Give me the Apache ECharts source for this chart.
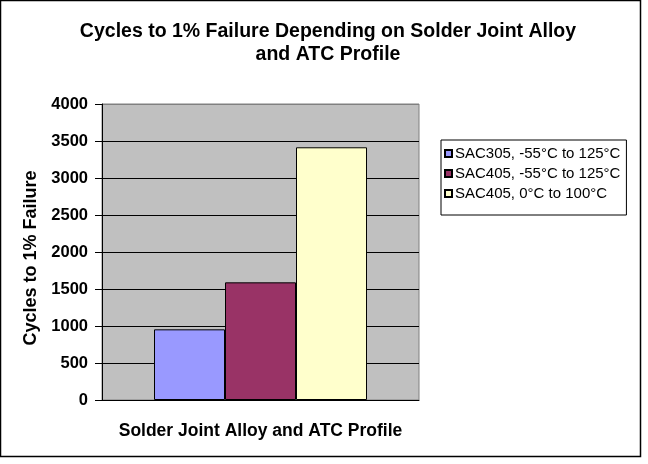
<!DOCTYPE html>
<html>
<head>
<meta charset="utf-8">
<script src="https://cdn.jsdelivr.net/npm/echarts@6/dist/echarts.min.js"></script>
<style>
html,body{margin:0;padding:0;background:#fff;}
#chart{width:648px;height:464px;}
</style>
</head>
<body>
<div id="chart"></div>
<script>
var categories = ['Solder Joint Alloy and ATC Profile'];
var seriesNames = ['SAC305, -55°C to 125°C', 'SAC405, -55°C to 125°C', 'SAC405, 0°C to 100°C'];
var sac305_55_125 = [955];
var sac405_55_125 = [1590];
var sac405_0_100 = [3415];
var yTicks = [0, 500, 1000, 1500, 2000, 2500, 3000, 3500, 4000];
var colors = ['#9999FF', '#993366', '#FFFFCC'];

var FONT = '"Liberation Sans", Arial, sans-serif';
var chart = echarts.init(document.getElementById('chart'), null, {renderer: 'canvas'});

var splitColors = yTicks.map(function (v, i) { return i === yTicks.length - 1 ? '#808080' : '#000000'; });

var seriesData = [sac305_55_125, sac405_55_125, sac405_0_100];

chart.setOption({
  backgroundColor: '#ffffff',
  animation: false,
  textStyle: {fontFamily: FONT},
  title: {
    text: 'Cycles to 1% Failure Depending on Solder Joint Alloy\nand ATC Profile',
    left: 323, top: 15, textAlign: 'center',
    textStyle: {fontFamily: FONT, fontSize: 19.5, fontWeight: 'bold', color: '#000', lineHeight: 23}
  },
  graphic: [{
    type: 'rect', shape: {x: 0.5, y: 0.5, width: 640, height: 456},
    style: {fill: 'none', stroke: '#000', lineWidth: 1.5}, silent: true, z: 100
  }],
  legend: {
    orient: 'vertical', left: 441, top: 140,
    padding: [6, 6, 14, 3], itemGap: 5,
    itemWidth: 7, itemHeight: 7,
    borderColor: '#000', borderWidth: 1,
    icon: 'rect',
    textStyle: {fontFamily: FONT, fontSize: 15, color: '#000', padding: [0, 0, 0, -2]},
    data: seriesNames
  },
  grid: {
    left: 102, top: 104, width: 317, height: 296,
    show: true, backgroundColor: '#C0C0C0', borderColor: '#808080', borderWidth: 1
  },
  xAxis: {
    type: 'category', data: categories,
    name: categories[0], nameLocation: 'middle', nameGap: 22,
    nameTextStyle: {fontFamily: FONT, fontSize: 17.5, fontWeight: 'bold', color: '#000'},
    axisLine: {show: true, lineStyle: {color: '#000', width: 1}},
    axisTick: {show: false},
    axisLabel: {show: false},
    splitLine: {show: false}
  },
  yAxis: {
    type: 'value', min: 0, max: 4000, interval: 500,
    name: 'Cycles to 1% Failure', nameLocation: 'middle', nameGap: 62,
    nameTextStyle: {fontFamily: FONT, fontSize: 18, fontWeight: 'bold', color: '#000', padding: [0, 12, 0, 0]},
    axisLine: {show: true, lineStyle: {color: '#000', width: 1}},
    axisTick: {show: true, inside: false, length: 7, lineStyle: {color: '#000'}},
    axisLabel: {fontFamily: FONT, fontSize: 16.5, fontWeight: 'bold', color: '#000', margin: 14,
      formatter: function (v) { return String(v); }},
    splitLine: {show: true, lineStyle: {color: splitColors, width: 1}}
  },
  series: seriesNames.map(function (n, i) {
    return {
      type: 'bar', name: n, data: seriesData[i],
      barWidth: 71, barGap: '0%',
      itemStyle: {color: colors[i], borderColor: '#000', borderWidth: 1}
    };
  })
});
</script>
</body>
</html>
